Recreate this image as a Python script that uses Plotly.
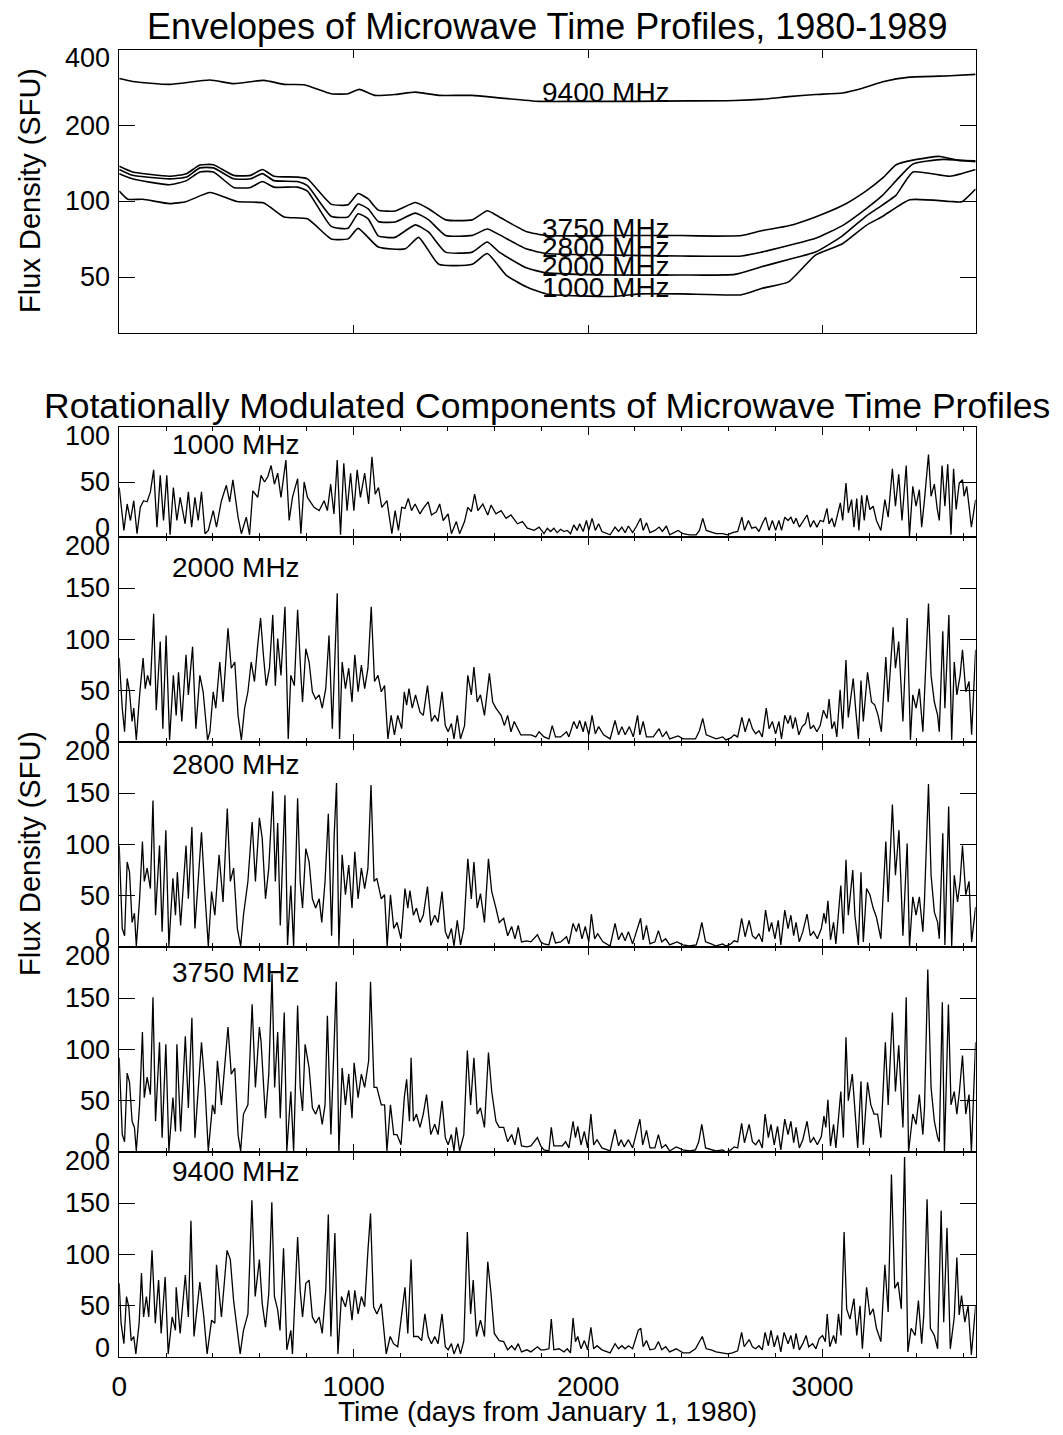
import math
import plotly.graph_objects as go

# ---------------- data ----------------
# Envelopes (top panel), (day, SFU)
env9400 = [(0,308),(57,300),(215,292),(387,304),(488,294),(617,303),(703,292),(789,291),(904,268),(976,268),(1024,279),(1090,264),(1176,266),(1263,272),(1363,264),(1506,264),(1621,258),(1793,250),(1966,250),(2195,250),(2425,251),(2626,252),(2769,256),(2855,261),(2970,266),(3085,270),(3171,282),(3257,299),(3372,312),(3544,316),(3653,320)]
env3750 = [(0,138),(57,131),(215,126),(287,129),(344,139.5),(402,140),(488,127),(560,127),(611,134),(660,126),(760,125),(803,123),(904,97.6),(976,97),(1019,107.5),(1062,102.3),(1105,92.4),(1176,91.6),(1263,99),(1320,93.5),(1392,84.5),(1506,84.5),(1570,91.8),(1621,86.8),(1736,76),(1822,73.2),(2109,73.2),(2396,73.2),(2539,72.8),(2654,73.2),(2740,76.5),(2855,80),(2970,86.8),(3085,96.3),(3185,110),(3257,124),(3314,140),(3386,146),(3501,151),(3572,146),(3653,145)]
env2800 = [(0,134),(57,127),(215,123),(287,125),(344,136),(402,136),(488,123),(560,123),(611,129),(660,121),(760,120),(803,115.5),(904,87.3),(976,86.8),(1019,97.6),(1062,93.5),(1105,83.3),(1176,82.8),(1263,89.9),(1320,84.5),(1392,73.3),(1506,73.3),(1570,77.7),(1621,73.8),(1736,64.8),(1822,62.1),(2109,61.2),(2396,60.7),(2654,60.7),(2740,62.9),(2855,66.8),(2970,71.4),(3085,80.2),(3185,93.5),(3257,106),(3314,121),(3386,141),(3515,147),(3653,144)]
env2000 = [(0,129),(57,123),(215,116.5),(287,121),(344,131),(402,131),(488,113.7),(560,113.7),(611,120),(660,114),(760,114),(803,110),(904,79.6),(976,78.2),(1019,89.4),(1062,85.3),(1105,73),(1176,72),(1263,80.7),(1320,75.5),(1392,62.9),(1506,62.9),(1570,69),(1621,62.9),(1736,54.5),(1822,52),(2109,51),(2396,51),(2626,51.3),(2740,55),(2855,58.8),(2970,62.9),(3085,73),(3185,87.3),(3257,97),(3314,106),(3386,131),(3544,126),(3653,134)]
env1000 = [(0,110),(37,102),(100,102),(215,98),(287,100),(387,108.5),(502,100),(617,98.6),(703,86.8),(803,85.3),(904,71),(976,71),(1019,78.2),(1105,65.9),(1220,64.8),(1277,72),(1363,56.3),(1506,56.3),(1570,62.1),(1650,51),(1736,45.8),(1822,42.9),(2109,41.9),(2224,42.9),(2396,42.9),(2654,42.6),(2740,45.1),(2855,47.9),(2970,61.2),(3085,67.9),(3185,80.2),(3257,87.3),(3372,101.6),(3544,100),(3595,99.8),(3653,112)]

# Rotationally modulated components, (day, SFU)
s1000 = [(0,45),(20,6),(34,30),(48,15),(62,33),(76,3),(90,27),(104,33),(119,32),(133,41),(147,61),(161,9),(175,56),(189,15),(203,56),(217,2),(231,45),(246,15),(260,36),(281,12),(295,41),(309,9),(323,36),(337,15),(351,41),(366,3),(380,6),(401,24),(415,9),(436,33),(457,47),(471,32),(485,52),(507,18),(521,3),(542,18),(556,2),(570,42),(591,36),(605,56),(620,50),(634,55),(648,65),(662,48),(676,58),(690,36),(711,70),(725,15),(739,36),(761,53),(775,3),(789,50),(803,36),(817,32),(831,27),(853,24),(874,33),(888,24),(902,48),(916,21),(930,70),(944,2),(958,67),(972,24),(987,58),(1001,24),(1015,61),(1029,36),(1047,58),(1064,30),(1078,73),(1092,39),(1106,45),(1120,27),(1142,33),(1163,3),(1177,24),(1191,6),(1205,27),(1219,26),(1233,35),(1247,24),(1262,30),(1283,21),(1297,26),(1318,32),(1332,20),(1353,23),(1367,30),(1382,15),(1403,21),(1417,3),(1438,14),(1452,3),(1473,14),(1487,27),(1502,23),(1516,39),(1530,24),(1551,30),(1572,20),(1586,29),(1607,21),(1629,24),(1650,17),(1671,20),(1699,12),(1720,14),(1741,8),(1770,6),(1791,9),(1812,3),
         (1826,8),(1840,5),(1854,8),(1868,4),(1883,7),(1897,5),(1911,6),(1925,3),(1939,11),(1953,6),(1964,12),(1979,5),(1993,15),(2003,6),(2017,17),(2031,6),(2045,12),(2059,5),(2080,3),(2094,2),(2115,9),(2130,5),(2144,9),(2158,4),(2172,10),(2190,4),(2207,10),(2224,17),(2235,6),(2249,13),(2264,4),(2285,6),(2303,9),(2317,5),(2334,10),(2348,2),(2384,6),(2405,3),(2433,2),(2461,2),(2475,6),(2489,17),(2504,6),(2518,5),(2546,3),(2574,3),(2595,2),(2616,4),(2638,5),(2656,18),(2667,6),(2684,15),(2698,8),(2715,9),(2729,5),(2743,12),(2757,18),(2772,6),(2786,15),(2800,6),(2814,15),(2825,6),(2839,18),(2853,15),(2865,18),(2877,12),(2887,17),(2901,9),(2916,14),(2934,20),(2948,9),(2962,15),(2976,9),(2990,15),(3004,14),(3019,26),(3028,12),(3040,17),(3051,9),(3065,22),(3076,31),(3086,15),(3100,49),(3110,22),(3124,34),(3134,9),(3146,35),(3155,6),(3167,38),(3178,15),(3189,38),(3202,25),(3216,28),(3230,15),(3249,6),(3266,34),(3280,18),(3298,62),(3311,28),(3325,57),(3339,15),(3357,65),(3371,1),(3385,46),(3399,28),(3413,43),(3423,9),(3435,34),(3452,75),(3463,37),(3477,48),(3489,26),(3498,15),(3510,65),(3522,28),(3534,66),(3548,2),(3559,62),(3570,25),(3583,49),(3597,52),(3604,37),(3615,46),(3625,28),(3635,9),(3653,34)]

s2000 = [(0,82),(13,33),(23,10),(34,62),(44,49),(55,20),(62,33),(73,2),(87,46),(102,82),(111,52),(121,65),(133,55),(147,125),(158,31),(175,98),(186,13),(200,104),(215,2),(231,65),(243,26),(253,68),(267,20),(285,85),(295,46),(313,93),(327,13),(344,65),(358,49),(377,2),(387,10),(401,49),(412,33),(429,78),(443,39),(464,111),(478,72),(493,78),(507,26),(521,2),(535,33),(549,49),(563,78),(577,59),(591,95),(603,121),(615,85),(627,55),(641,72),(655,124),(666,55),(676,101),(690,65),(707,132),(721,3),(732,65),(747,55),(761,129),(775,65),(782,39),(796,91),(810,78),(824,49),(838,42),(853,46),(866,33),(881,52),(895,104),(909,13),(920,88),(930,145),(940,3),(951,78),(965,52),(979,72),(993,39),(1005,85),(1019,49),(1033,75),(1047,52),(1061,72),(1075,132),(1089,59),(1104,65),(1118,49),(1132,55),(1146,3),(1160,26),(1174,7),(1188,26),(1205,13),(1216,49),(1226,36),(1236,52),(1250,33),(1264,46),(1283,29),(1297,26),(1315,55),(1332,20),(1346,26),(1360,20),(1377,49),(1391,16),(1403,10),(1417,18),(1428,3),(1442,26),(1456,3),(1473,16),(1487,65),(1502,46),(1513,73),(1527,39),(1541,46),(1558,26),(1579,67),(1593,39),(1607,33),(1629,26),(1643,16),(1657,26),(1671,10),(1685,20),(1699,13),(1713,7),(1734,7),(1756,7),(1777,5),(1791,10),
         (1812,5),(1833,3),(1847,16),(1861,5),(1883,5),(1908,10),(1918,5),(1939,20),(1953,13),(1964,21),(1979,10),(1988,20),(2003,7),(2017,26),(2031,8),(2045,15),(2066,7),(2094,3),(2115,21),(2130,7),(2144,15),(2158,7),(2176,15),(2193,5),(2211,26),(2221,7),(2235,20),(2249,5),(2278,5),(2303,13),(2317,5),(2334,10),(2348,3),(2384,6),(2405,3),(2433,3),(2458,3),(2475,11),(2489,23),(2504,7),(2525,5),(2546,3),(2574,5),(2588,2),(2609,4),(2623,7),(2638,5),(2656,24),(2670,10),(2687,23),(2701,13),(2715,8),(2729,11),(2743,5),(2760,33),(2772,13),(2786,20),(2800,8),(2814,20),(2825,3),(2839,26),(2853,18),(2863,26),(2873,13),(2884,24),(2899,7),(2913,15),(2927,18),(2938,29),(2948,13),(2962,16),(2976,10),(2990,16),(3004,31),(3019,23),(3028,42),(3040,13),(3051,20),(3061,5),(3075,51),(3086,13),(3100,80),(3110,24),(3131,62),(3141,33),(3153,3),(3164,60),(3174,20),(3192,68),(3209,39),(3223,36),(3237,26),(3251,10),(3270,83),(3280,39),(3301,112),(3311,72),(3325,98),(3343,20),(3361,121),(3375,2),(3385,46),(3399,33),(3413,52),(3428,10),(3435,46),(3452,135),(3463,65),(3477,39),(3491,26),(3498,10),(3513,108),(3522,33),(3539,124),(3551,2),(3562,78),(3573,46),(3587,65),(3597,90),(3611,49),(3625,59),(3636,7),(3653,90)]

s2800 = [(0,99),(13,18),(23,11),(34,83),(44,73),(55,24),(65,33),(73,1),(87,47),(99,103),(107,64),(119,77),(133,57),(144,143),(155,31),(172,99),(183,15),(199,114),(212,1),(229,67),(240,31),(248,73),(262,21),(285,99),(295,47),(310,117),(323,18),(351,112),(366,51),(380,1),(394,54),(408,31),(426,90),(443,44),(461,135),(474,64),(488,77),(504,18),(518,1),(530,31),(549,64),(567,122),(581,64),(598,126),(610,106),(624,47),(638,77),(655,152),(666,64),(676,121),(687,21),(707,148),(718,2),(732,60),(744,1),(761,145),(772,64),(782,38),(796,96),(810,83),(824,47),(838,38),(853,47),(864,24),(878,64),(892,130),(906,11),(917,109),(927,160),(937,1),(951,90),(965,51),(979,80),(993,38),(1005,93),(1019,47),(1033,77),(1047,57),(1061,77),(1074,158),(1087,64),(1099,67),(1118,47),(1132,51),(1143,1),(1157,51),(1171,18),(1185,24),(1202,8),(1219,57),(1231,38),(1240,55),(1255,31),(1268,38),(1283,24),(1297,31),(1315,59),(1329,21),(1346,31),(1360,24),(1377,54),(1391,15),(1403,8),(1417,18),(1428,1),(1442,26),(1456,2),(1470,18),(1487,86),(1502,47),(1513,83),(1527,38),(1541,52),(1558,24),(1575,86),(1589,54),(1607,38),(1621,24),(1640,28),(1657,11),(1674,20),(1688,8),(1702,21),(1716,5),(1739,6),(1756,5),(1784,12),(1798,5),
         (1812,3),(1833,2),(1847,15),(1861,4),(1883,5),(1908,10),(1918,3),(1936,23),(1950,15),(1960,23),(1974,8),(1988,20),(2003,5),(2014,32),(2028,8),(2041,13),(2063,5),(2094,1),(2115,23),(2130,7),(2144,14),(2158,6),(2172,15),(2190,3),(2224,28),(2235,7),(2249,21),(2264,3),(2285,5),(2300,16),(2314,5),(2331,8),(2348,2),(2379,5),(2405,2),(2433,1),(2461,2),(2472,10),(2485,24),(2501,5),(2525,3),(2546,1),(2574,3),(2588,1),(2609,3),(2623,6),(2638,5),(2655,28),(2670,10),(2687,26),(2701,11),(2715,8),(2729,13),(2743,5),(2757,36),(2772,15),(2783,24),(2797,8),(2811,26),(2822,2),(2839,36),(2853,18),(2865,31),(2877,11),(2887,24),(2901,5),(2916,15),(2934,32),(2948,11),(2962,15),(2978,8),(2995,18),(3006,33),(3014,23),(3023,45),(3034,7),(3047,24),(3057,3),(3078,60),(3089,13),(3100,85),(3110,31),(3129,75),(3138,31),(3153,2),(3164,73),(3174,5),(3188,57),(3202,51),(3216,38),(3230,29),(3249,8),(3270,103),(3280,44),(3298,139),(3311,70),(3326,114),(3343,11),(3361,101),(3371,0),(3385,49),(3399,31),(3413,49),(3428,15),(3435,46),(3452,159),(3463,70),(3477,34),(3491,24),(3498,8),(3513,111),(3522,2),(3538,137),(3551,1),(3562,70),(3576,44),(3587,64),(3597,99),(3611,51),(3625,64),(3636,5),(3653,39)]

s3750 = [(0,92),(13,17),(23,10),(34,77),(44,68),(55,30),(65,24),(73,1),(87,46),(99,117),(107,53),(119,73),(133,56),(144,151),(155,30),(172,107),(183,14),(199,105),(212,1),(229,53),(240,20),(246,105),(262,20),(282,113),(295,43),(310,131),(323,14),(351,107),(366,63),(380,1),(398,46),(408,37),(419,89),(436,46),(464,122),(478,76),(493,82),(507,17),(518,1),(530,37),(549,46),(567,144),(581,63),(598,122),(605,108),(624,33),(638,76),(652,174),(663,63),(676,117),(687,33),(704,136),(715,1),(732,59),(744,1),(761,143),(772,63),(782,40),(793,105),(810,82),(824,43),(838,37),(853,46),(866,27),(878,46),(888,133),(903,17),(917,105),(926,166),(937,1),(951,82),(965,46),(979,76),(993,33),(1002,87),(1019,53),(1033,76),(1047,63),(1064,89),(1072,166),(1087,63),(1099,63),(1118,46),(1132,46),(1142,1),(1157,46),(1171,17),(1185,17),(1202,7),(1216,53),(1226,71),(1238,30),(1245,92),(1255,30),(1268,37),(1283,24),(1297,37),(1311,56),(1329,17),(1346,27),(1360,17),(1377,50),(1391,14),(1403,7),(1417,17),(1428,1),(1438,24),(1452,1),(1470,17),(1485,99),(1499,46),(1513,92),(1527,37),(1541,43),(1558,24),(1575,97),(1589,59),(1607,30),(1621,24),(1640,24),(1657,10),(1674,17),(1688,7),(1702,24),(1716,6),(1739,5),(1756,6),(1784,14),(1798,6),
         (1812,2),(1833,1),(1843,24),(1854,6),(1876,6),(1890,6),(1904,10),(1918,4),(1936,30),(1946,14),(1956,25),(1970,7),(1984,20),(1998,4),(2012,37),(2024,7),(2038,12),(2059,4),(2094,1),(2115,22),(2130,6),(2141,12),(2154,5),(2172,12),(2190,4),(2221,32),(2233,7),(2249,21),(2264,4),(2285,4),(2300,17),(2314,4),(2331,7),(2348,1),(2376,5),(2405,2),(2433,1),(2458,2),(2472,10),(2485,27),(2501,4),(2525,2),(2546,1),(2574,2),(2588,0),(2609,2),(2623,5),(2638,4),(2655,28),(2667,9),(2687,27),(2701,10),(2715,7),(2729,12),(2743,4),(2755,37),(2769,14),(2780,27),(2794,7),(2808,25),(2822,2),(2839,32),(2853,17),(2865,30),(2877,9),(2887,24),(2901,4),(2916,12),(2934,30),(2948,9),(2962,14),(2978,7),(2995,15),(3006,35),(3014,24),(3023,51),(3034,6),(3047,27),(3057,4),(3078,59),(3089,14),(3100,112),(3110,50),(3127,76),(3138,37),(3150,4),(3164,69),(3174,7),(3192,68),(3206,46),(3220,37),(3235,37),(3249,14),(3268,107),(3280,46),(3298,136),(3311,59),(3325,104),(3343,24),(3357,151),(3367,0),(3385,37),(3399,27),(3413,56),(3428,17),(3435,43),(3449,178),(3463,63),(3477,30),(3491,14),(3498,10),(3511,146),(3520,0),(3537,144),(3548,46),(3562,59),(3573,37),(3584,59),(3597,94),(3611,37),(3625,56),(3635,0),(3653,107)]

s9400 = [(0,72),(8,33),(20,13),(31,59),(41,49),(51,16),(62,20),(71,3),(85,33),(95,82),(104,39),(116,59),(126,39),(140,104),(154,33),(168,75),(179,23),(196,78),(209,3),(226,39),(240,26),(243,68),(260,23),(282,80),(295,39),(306,133),(319,20),(344,73),(361,39),(375,3),(394,36),(408,33),(415,90),(436,39),(460,104),(474,95),(488,55),(502,26),(516,3),(530,26),(549,42),(566,153),(580,59),(598,95),(610,52),(624,29),(638,62),(651,151),(662,59),(676,46),(686,26),(701,106),(715,7),(732,26),(739,3),(761,117),(772,65),(782,39),(796,72),(810,75),(824,39),(838,33),(853,39),(866,23),(881,65),(892,139),(903,20),(920,121),(933,3),(948,59),(965,49),(979,65),(993,36),(1005,65),(1019,42),(1033,59),(1047,49),(1061,104),(1072,140),(1085,49),(1099,42),(1118,52),(1132,20),(1139,3),(1156,20),(1170,13),(1188,10),(1202,36),(1219,68),(1231,23),(1245,95),(1256,20),(1275,20),(1290,16),(1304,42),(1318,20),(1332,13),(1346,20),(1360,13),(1377,42),(1391,10),(1403,7),(1417,13),(1428,3),(1445,13),(1456,3),(1470,16),(1485,122),(1499,42),(1510,75),(1524,20),(1541,36),(1558,20),(1572,93),(1586,62),(1600,23),(1621,16),(1640,15),(1657,7),(1674,11),(1688,7),(1702,13),(1716,5),(1739,7),(1756,5),(1784,10),(1798,7),
         (1812,7),(1833,8),(1843,37),(1854,7),(1876,8),(1897,5),(1911,8),(1925,4),(1936,38),(1946,15),(1956,20),(1970,8),(1984,16),(1998,7),(2012,29),(2024,8),(2038,11),(2059,7),(2094,4),(2115,13),(2130,8),(2144,11),(2158,8),(2172,11),(2190,8),(2214,26),(2225,28),(2235,10),(2249,16),(2264,7),(2285,8),(2300,15),(2314,7),(2331,10),(2348,5),(2376,8),(2405,4),(2433,4),(2458,8),(2475,15),(2487,20),(2504,8),(2525,7),(2546,5),(2574,4),(2595,3),(2616,4),(2638,6),(2655,24),(2666,10),(2687,17),(2701,10),(2715,8),(2729,11),(2743,7),(2755,24),(2769,11),(2780,26),(2794,10),(2808,21),(2822,5),(2836,24),(2853,13),(2865,21),(2877,8),(2887,23),(2901,7),(2916,13),(2930,21),(2941,10),(2958,13),(2972,8),(2986,18),(3000,21),(3012,15),(3020,42),(3031,10),(3047,21),(3057,13),(3068,42),(3079,21),(3092,122),(3103,47),(3117,37),(3134,57),(3146,21),(3160,50),(3170,8),(3188,68),(3202,41),(3216,47),(3230,28),(3249,15),(3266,90),(3280,44),(3294,178),(3308,67),(3322,73),(3336,47),(3350,195),(3364,5),(3378,28),(3395,21),(3409,55),(3423,13),(3432,41),(3446,154),(3460,28),(3477,21),(3491,8),(3506,143),(3517,34),(3531,126),(3545,8),(3562,39),(3573,97),(3583,41),(3593,60),(3607,34),(3621,50),(3635,2),(3653,50)]

freq_labels = ["1000 MHz", "2000 MHz", "2800 MHz", "3750 MHz", "9400 MHz"]
env_label_values = [45.3, 55.3, 65.9, 78.4]   # 1000, 2000, 2800, 3750 labels
env9400_label_value = 270
panel_label_values = [84, 170, 178, 175, 181]
x_ticks = [0, 1000, 2000, 3000]
top_y_ticks = [50, 100, 200, 400]
p1_y_ticks = [0, 50, 100]
p_y_ticks = [0, 50, 100, 150, 200]
X_MAX = 3653

# ---------------- layout geometry ----------------
# The page body has an 8px margin, so the figure is drawn 16px smaller and
# every target pixel position (in the 1063x1435 frame) is shifted by 8px.
PAGE_W, PAGE_H = 1063, 1435
OFF = 8
W, H = PAGE_W - 2 * OFF, PAGE_H - 2 * OFF
XL, XR = 112, 975

def fx(p):
    return (p - OFF) / W

def fy(p):
    return 1 - (p - OFF) / H

FONT = "Liberation Sans, Arial, Helvetica, sans-serif"
fig = go.Figure()

def xy(pairs):
    return [p[0] for p in pairs], [p[1] for p in pairs]

for env in [env9400, env3750, env2800, env2000, env1000]:
    x, y = xy(env)
    fig.add_trace(go.Scatter(x=x, y=y, mode="lines",
                             line=dict(color="black", width=1.6, shape="spline", smoothing=0.5),
                             xaxis="x", yaxis="y", showlegend=False, hoverinfo="skip"))

series = [s1000, s2000, s2800, s3750, s9400]
for i, s in enumerate(series):
    x, y = xy(s)
    k = i + 2
    fig.add_trace(go.Scatter(x=x, y=y, mode="lines", line=dict(color="black", width=1.3),
                             xaxis=f"x{k}", yaxis=f"y{k}", showlegend=False, hoverinfo="skip"))

axis_common = dict(showline=True, linecolor="black", linewidth=1.2, mirror="ticks",
                   showgrid=False, zeroline=False, ticks="inside", tickcolor="black")

panel_px = [(50, 333), (427, 537), (537, 742), (742, 947), (947, 1152), (1152, 1357)]
xdom = [fx(XL), fx(XR)]

layout = dict(width=W, height=H, margin=dict(l=0, r=0, t=0, b=0),
              paper_bgcolor="white", plot_bgcolor="white",
              font=dict(family=FONT, color="black", size=28), showlegend=False)

# top panel
layout["xaxis"] = dict(domain=xdom, anchor="y", range=[0, X_MAX], tickvals=x_ticks,
                       showticklabels=False, ticklen=8, tickwidth=1.2, **axis_common)
layout["yaxis"] = dict(domain=[fy(333), fy(50)], anchor="x", type="log",
                       range=[math.log10(30), math.log10(400)], tickvals=top_y_ticks,
                       showticklabels=False, ticklen=16, tickwidth=1.2, **axis_common)

minor_vals = [v for v in range(200, X_MAX, 200) if v % 1000]
for i in range(5):
    k = i + 2
    top, bot = panel_px[i + 1]
    xa = dict(domain=xdom, anchor=f"y{k}", range=[0, X_MAX], tickvals=x_ticks,
              ticklen=8, tickwidth=1.2,
              minor=dict(tickvals=minor_vals, ticks="inside", ticklen=4,
                         tickcolor="black", tickwidth=1),
              showticklabels=(k == 6), **axis_common)
    if k == 6:
        xa.update(ticktext=[str(v) for v in x_ticks], tickfont=dict(size=28), ticklabelstandoff=4)
    layout[f"xaxis{k}"] = xa
    ymax = 100 if i == 0 else 200
    layout[f"yaxis{k}"] = dict(domain=[fy(bot), fy(top)], anchor=f"x{k}", range=[0, ymax],
                               tickvals=p1_y_ticks if i == 0 else p_y_ticks,
                               showticklabels=False, ticklen=16, tickwidth=1.2, **axis_common)

ann = []
def A(**kw):
    kw.setdefault("showarrow", False)
    ann.append(kw)

xc = fx((XL + XR) / 2)
# titles
A(text="Envelopes of Microwave Time Profiles, 1980-1989", xref="paper", yref="paper",
  x=xc, y=fy(26), xanchor="center", yanchor="middle", font=dict(size=36))
A(text="Rotationally Modulated Components of Microwave Time Profiles", xref="paper", yref="paper",
  x=xc, y=fy(406), xanchor="center", yanchor="middle", font=dict(size=35.5))
A(text="Flux Density (SFU)", xref="paper", yref="paper", x=fx(22), y=fy(190),
  xanchor="center", yanchor="middle", textangle=-90, font=dict(size=29))
A(text="Flux Density (SFU)", xref="paper", yref="paper", x=fx(22), y=fy(853),
  xanchor="center", yanchor="middle", textangle=-90, font=dict(size=29))
A(text="Time (days from January 1, 1980)", xref="paper", yref="paper",
  x=xc, y=fy(1411), xanchor="center", yanchor="middle", font=dict(size=28))

# y tick labels
for v in top_y_ticks:
    A(text=str(v), xref="paper", yref="y", x=fx(XL), y=math.log10(v), xanchor="right",
      yanchor="middle", xshift=-7, yshift=(-8 if v == 400 else 0), font=dict(size=27))
for i in range(5):
    k = i + 2
    ticks = p1_y_ticks if i == 0 else p_y_ticks
    for v in ticks:
        sh = 0
        if v == ticks[0]:
            sh = 9
        elif v == ticks[-1]:
            sh = -9
        A(text=str(v), xref="paper", yref=f"y{k}", x=fx(XL), y=v, xanchor="right",
          yanchor="middle", xshift=-7, yshift=sh, font=dict(size=27))

# envelope labels
A(text="9400 MHz", xref="x", yref="y", x=1795, y=math.log10(env9400_label_value),
  xanchor="left", yanchor="middle", font=dict(size=28))
for lab, v in zip(["1000 MHz", "2000 MHz", "2800 MHz", "3750 MHz"], env_label_values):
    A(text=lab, xref="x", yref="y", x=1795, y=math.log10(v), xanchor="left",
      yanchor="middle", font=dict(size=28))

# panel labels
for i, lab in enumerate(freq_labels):
    k = i + 2
    A(text=lab, xref=f"x{k}", yref=f"y{k}", x=215, y=panel_label_values[i],
      xanchor="left", yanchor="middle", font=dict(size=28))

layout["annotations"] = ann
fig.update_layout(**layout)
fig.write_html("out.html")
